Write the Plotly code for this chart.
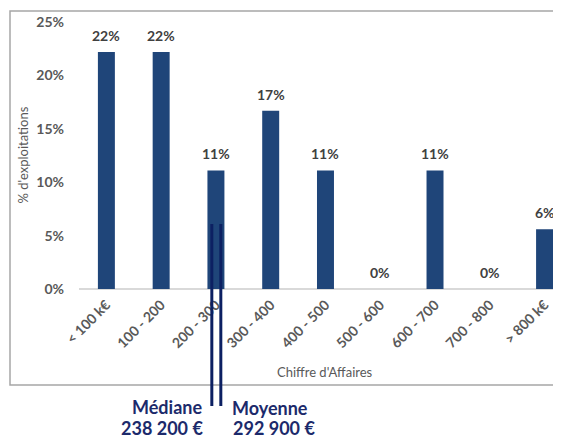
import plotly.graph_objects as go

# ---- data ----
categories = ["< 100 k€", "100 - 200", "200 - 300", "300 - 400", "400 - 500",
              "500 - 600", "600 - 700", "700 - 800", "> 800 k€"]
shares = [22.2, 22.2, 11.1, 16.7, 11.1, 0.0, 11.1, 0.0, 5.6]
y_ticks = [0, 5, 10, 15, 20, 25]
y_tick_labels = ["0%", "5%", "10%", "15%", "20%", "25%"]
stat_names = ["Médiane", "Moyenne"]
stat_values = ["238 200 €", "292 900 €"]

# ---- style ----
BAR = "#1F4579"
NAVY = "#0C2062"
TXT = "#1C2A6B"
GRAY = "#595959"
FONT = "Lato"

OFF = 8  # page body margin
PAGE_W, PAGE_H = 561, 438
W, H = PAGE_W - OFF, PAGE_H - OFF
# plot area in page pixels
PL, PR, PT, PB = 79, 561, 22, 289
L, T = PL - OFF, PT - OFF
R = W - (PR - OFF)
B = H - (PB - OFF)
pw, ph = W - L - R, H - T - B

def px_x(x):  # page px -> paper
    return (x - PL) / pw

def px_y(y):
    return (PB - y) / ph

stat_pos = [1.925, 2.089]

fig = go.Figure()
fig.add_trace(go.Bar(
    x=list(range(len(categories))), y=shares, width=0.31,
    marker=dict(color=BAR, line=dict(width=0)),
    hoverinfo="skip",
))

annotations = []
for i, v in enumerate(shares):
    annotations.append(dict(
        x=i, y=v, xref="x", yref="y", text=f"{round(v)}%", showarrow=False,
        yanchor="bottom", yshift=6,
        font=dict(family=FONT, size=14, color="#404040", weight="bold"),
    ))

# axis titles
annotations.append(dict(
    x=px_x(22), y=0.5, xref="paper", yref="paper", text="% d'exploitations",
    textangle=-90, showarrow=False, xanchor="center", yanchor="middle",
    font=dict(family=FONT, size=13, color=GRAY),
))
annotations.append(dict(
    x=px_x(325), y=px_y(372), xref="paper", yref="paper", text="Chiffre d'Affaires",
    showarrow=False, xanchor="center", yanchor="middle",
    font=dict(family=FONT, size=13, color=GRAY),
))

# median / mean labels
stat_font = dict(family=FONT, size=18, color=TXT, weight="bold")
annotations += [
    dict(x=stat_pos[0], xref="x", y=px_y(407), yref="paper", text=stat_names[0],
         showarrow=False, xanchor="right", yanchor="middle", xshift=-8, font=stat_font),
    dict(x=stat_pos[0], xref="x", y=px_y(428), yref="paper", text=stat_values[0],
         showarrow=False, xanchor="right", yanchor="middle", xshift=-7, font=stat_font),
    dict(x=stat_pos[1], xref="x", y=px_y(408), yref="paper", text=stat_names[1],
         showarrow=False, xanchor="left", yanchor="middle", xshift=9, font=stat_font),
    dict(x=stat_pos[1], xref="x", y=px_y(428), yref="paper", text=stat_values[1],
         showarrow=False, xanchor="left", yanchor="middle", xshift=10, font=stat_font),
]

shapes = [
    dict(type="rect", xref="paper", yref="paper",
         x0=px_x(10), x1=1.05, y0=px_y(385), y1=px_y(11),
         line=dict(color="#A6A6A6", width=1.5), fillcolor="rgba(0,0,0,0)", layer="below"),
]
for p in stat_pos:
    shapes.append(dict(type="line", xref="x", yref="paper",
                       x0=p, x1=p, y0=px_y(224), y1=px_y(406),
                       line=dict(color=NAVY, width=3)))

fig.update_layout(
    width=W, height=H,
    margin=dict(l=L, r=R, t=T, b=B, pad=0, autoexpand=False),
    paper_bgcolor="white", plot_bgcolor="white",
    showlegend=False,
    annotations=annotations,
    shapes=shapes,
    xaxis=dict(
        range=[-0.5, 8.30], tickmode="array",
        tickvals=list(range(len(categories))), ticktext=categories,
        tickangle=-45, showgrid=False, zeroline=False, showline=False,
        ticks="", ticklabelstandoff=4, automargin=False,
        tickfont=dict(family=FONT, size=14, color=GRAY, weight="bold"),
        fixedrange=True,
    ),
    yaxis=dict(
        range=[0, 25], tickmode="array", tickvals=y_ticks, ticktext=y_tick_labels,
        showgrid=False, zeroline=True, zerolinecolor="#D9D9D9", zerolinewidth=2,
        showline=False, ticks="", ticklabelstandoff=14, automargin=False,
        tickfont=dict(family=FONT, size=14, color=GRAY, weight="bold"),
        fixedrange=True,
    ),
)

fig.write_html("out.html")
